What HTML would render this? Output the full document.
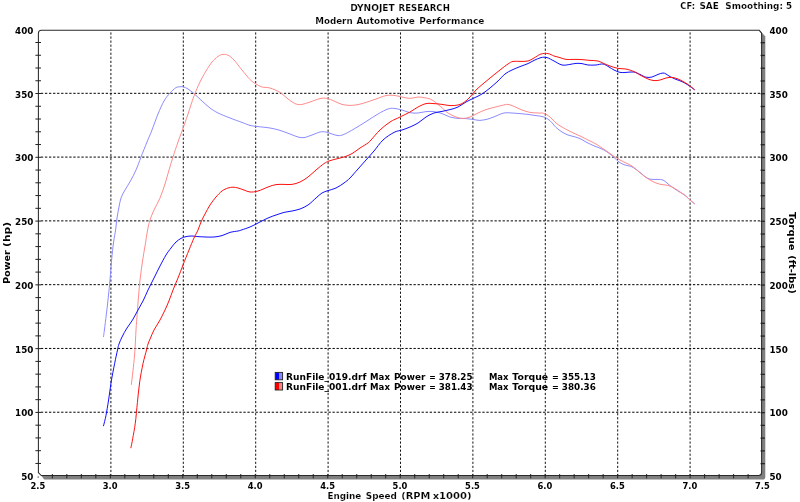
<!DOCTYPE html>
<html lang="en"><head><meta charset="utf-8"><title>Dynojet Research - Modern Automotive Performance</title>
<style>html,body{margin:0;padding:0;background:#fff;}body{width:800px;height:502px;overflow:hidden;}svg{display:block;will-change:transform;}text{font-family:"DejaVu Sans", "Liberation Sans", sans-serif;font-weight:bold;fill:#000;stroke:#fff;stroke-width:0.16px;}text.t{stroke:none;}</style></head><body>
<svg width="800" height="502" viewBox="0 0 800 502">
<rect width="800" height="502" fill="#fff"/>
<path d="M760.6,31.2 L765.3,36.4 L765.3,476.7 Q765.3,479.6 762.4,479.6 L44.2,479.6 L40.4,474.5 Z" fill="#808080"/>
<path d="M38.4,472.7 L38.4,33.2 Q38.4,30.2 41.4,30.2 L759.1,30.2 L761.6,33.2 L761.6,472.5 Q761.6,475.5 758.6,475.5 L41.2,475.5 Z" fill="#fff"/>
<g stroke="#000" stroke-width="0.92" stroke-dasharray="2.25 1.8" fill="none">
<line x1="110.90" y1="32.40" x2="110.90" y2="475.50"/>
<line x1="183.30" y1="32.40" x2="183.30" y2="475.50"/>
<line x1="255.70" y1="32.40" x2="255.70" y2="475.50"/>
<line x1="328.10" y1="32.40" x2="328.10" y2="475.50"/>
<line x1="400.50" y1="32.40" x2="400.50" y2="475.50"/>
<line x1="472.90" y1="32.40" x2="472.90" y2="475.50"/>
<line x1="545.30" y1="32.40" x2="545.30" y2="475.50"/>
<line x1="617.70" y1="32.40" x2="617.70" y2="475.50"/>
<line x1="690.10" y1="32.40" x2="690.10" y2="475.50"/>
</g>
<g stroke="#000" stroke-width="1.0" stroke-dasharray="2.3 1.75" fill="none">
<line x1="40.90" y1="412.22" x2="761.60" y2="412.22"/>
<line x1="40.90" y1="348.44" x2="761.60" y2="348.44"/>
<line x1="40.90" y1="284.66" x2="761.60" y2="284.66"/>
<line x1="40.90" y1="220.88" x2="761.60" y2="220.88"/>
<line x1="40.90" y1="157.10" x2="761.60" y2="157.10"/>
<line x1="40.90" y1="93.32" x2="761.60" y2="93.32"/>
</g>
<path d="M38.4,472.7 L38.4,33.2 Q38.4,30.2 41.4,30.2 L759.1,30.2 L761.6,33.2 L761.6,472.5 Q761.6,475.5 758.6,475.5 L41.2,475.5 Z" fill="none" stroke="#2a2a2a" stroke-width="1.05" stroke-linejoin="round"/>
<g stroke="#222" stroke-width="1">
<line x1="35.4" y1="463.44" x2="41.0" y2="463.44"/>
<line x1="760.6" y1="463.64" x2="764.8" y2="463.64" stroke-width="1.3"/>
<line x1="35.4" y1="450.69" x2="41.0" y2="450.69"/>
<line x1="760.6" y1="450.89" x2="764.8" y2="450.89" stroke-width="1.3"/>
<line x1="35.4" y1="437.93" x2="41.0" y2="437.93"/>
<line x1="760.6" y1="438.13" x2="764.8" y2="438.13" stroke-width="1.3"/>
<line x1="35.4" y1="425.18" x2="41.0" y2="425.18"/>
<line x1="760.6" y1="425.38" x2="764.8" y2="425.38" stroke-width="1.3"/>
<line x1="35.4" y1="412.42" x2="41.0" y2="412.42"/>
<line x1="760.6" y1="412.62" x2="764.8" y2="412.62" stroke-width="1.3"/>
<line x1="35.4" y1="399.66" x2="41.0" y2="399.66"/>
<line x1="760.6" y1="399.86" x2="764.8" y2="399.86" stroke-width="1.3"/>
<line x1="35.4" y1="386.91" x2="41.0" y2="386.91"/>
<line x1="760.6" y1="387.11" x2="764.8" y2="387.11" stroke-width="1.3"/>
<line x1="35.4" y1="374.15" x2="41.0" y2="374.15"/>
<line x1="760.6" y1="374.35" x2="764.8" y2="374.35" stroke-width="1.3"/>
<line x1="35.4" y1="361.40" x2="41.0" y2="361.40"/>
<line x1="760.6" y1="361.60" x2="764.8" y2="361.60" stroke-width="1.3"/>
<line x1="35.4" y1="348.64" x2="41.0" y2="348.64"/>
<line x1="760.6" y1="348.84" x2="764.8" y2="348.84" stroke-width="1.3"/>
<line x1="35.4" y1="335.88" x2="41.0" y2="335.88"/>
<line x1="760.6" y1="336.08" x2="764.8" y2="336.08" stroke-width="1.3"/>
<line x1="35.4" y1="323.13" x2="41.0" y2="323.13"/>
<line x1="760.6" y1="323.33" x2="764.8" y2="323.33" stroke-width="1.3"/>
<line x1="35.4" y1="310.37" x2="41.0" y2="310.37"/>
<line x1="760.6" y1="310.57" x2="764.8" y2="310.57" stroke-width="1.3"/>
<line x1="35.4" y1="297.62" x2="41.0" y2="297.62"/>
<line x1="760.6" y1="297.82" x2="764.8" y2="297.82" stroke-width="1.3"/>
<line x1="35.4" y1="284.86" x2="41.0" y2="284.86"/>
<line x1="760.6" y1="285.06" x2="764.8" y2="285.06" stroke-width="1.3"/>
<line x1="35.4" y1="272.10" x2="41.0" y2="272.10"/>
<line x1="760.6" y1="272.30" x2="764.8" y2="272.30" stroke-width="1.3"/>
<line x1="35.4" y1="259.35" x2="41.0" y2="259.35"/>
<line x1="760.6" y1="259.55" x2="764.8" y2="259.55" stroke-width="1.3"/>
<line x1="35.4" y1="246.59" x2="41.0" y2="246.59"/>
<line x1="760.6" y1="246.79" x2="764.8" y2="246.79" stroke-width="1.3"/>
<line x1="35.4" y1="233.84" x2="41.0" y2="233.84"/>
<line x1="760.6" y1="234.04" x2="764.8" y2="234.04" stroke-width="1.3"/>
<line x1="35.4" y1="221.08" x2="41.0" y2="221.08"/>
<line x1="760.6" y1="221.28" x2="764.8" y2="221.28" stroke-width="1.3"/>
<line x1="35.4" y1="208.32" x2="41.0" y2="208.32"/>
<line x1="760.6" y1="208.52" x2="764.8" y2="208.52" stroke-width="1.3"/>
<line x1="35.4" y1="195.57" x2="41.0" y2="195.57"/>
<line x1="760.6" y1="195.77" x2="764.8" y2="195.77" stroke-width="1.3"/>
<line x1="35.4" y1="182.81" x2="41.0" y2="182.81"/>
<line x1="760.6" y1="183.01" x2="764.8" y2="183.01" stroke-width="1.3"/>
<line x1="35.4" y1="170.06" x2="41.0" y2="170.06"/>
<line x1="760.6" y1="170.26" x2="764.8" y2="170.26" stroke-width="1.3"/>
<line x1="35.4" y1="157.30" x2="41.0" y2="157.30"/>
<line x1="760.6" y1="157.50" x2="764.8" y2="157.50" stroke-width="1.3"/>
<line x1="35.4" y1="144.54" x2="41.0" y2="144.54"/>
<line x1="760.6" y1="144.74" x2="764.8" y2="144.74" stroke-width="1.3"/>
<line x1="35.4" y1="131.79" x2="41.0" y2="131.79"/>
<line x1="760.6" y1="131.99" x2="764.8" y2="131.99" stroke-width="1.3"/>
<line x1="35.4" y1="119.03" x2="41.0" y2="119.03"/>
<line x1="760.6" y1="119.23" x2="764.8" y2="119.23" stroke-width="1.3"/>
<line x1="35.4" y1="106.28" x2="41.0" y2="106.28"/>
<line x1="760.6" y1="106.48" x2="764.8" y2="106.48" stroke-width="1.3"/>
<line x1="35.4" y1="93.52" x2="41.0" y2="93.52"/>
<line x1="760.6" y1="93.72" x2="764.8" y2="93.72" stroke-width="1.3"/>
<line x1="35.4" y1="80.76" x2="41.0" y2="80.76"/>
<line x1="760.6" y1="80.96" x2="764.8" y2="80.96" stroke-width="1.3"/>
<line x1="35.4" y1="68.01" x2="41.0" y2="68.01"/>
<line x1="760.6" y1="68.21" x2="764.8" y2="68.21" stroke-width="1.3"/>
<line x1="35.4" y1="55.25" x2="41.0" y2="55.25"/>
<line x1="760.6" y1="55.45" x2="764.8" y2="55.45" stroke-width="1.3"/>
<line x1="35.4" y1="42.50" x2="41.0" y2="42.50"/>
<line x1="760.6" y1="42.70" x2="764.8" y2="42.70" stroke-width="1.3"/>
<line x1="52.35" y1="474.0" x2="52.35" y2="478.3"/>
<line x1="66.84" y1="474.0" x2="66.84" y2="478.3"/>
<line x1="81.33" y1="474.0" x2="81.33" y2="478.3"/>
<line x1="95.83" y1="474.0" x2="95.83" y2="478.3"/>
<line x1="110.32" y1="474.0" x2="110.32" y2="478.3"/>
<line x1="124.82" y1="474.0" x2="124.82" y2="478.3"/>
<line x1="139.32" y1="474.0" x2="139.32" y2="478.3"/>
<line x1="153.81" y1="474.0" x2="153.81" y2="478.3"/>
<line x1="168.30" y1="474.0" x2="168.30" y2="478.3"/>
<line x1="182.80" y1="474.0" x2="182.80" y2="478.3"/>
<line x1="197.29" y1="474.0" x2="197.29" y2="478.3"/>
<line x1="211.79" y1="474.0" x2="211.79" y2="478.3"/>
<line x1="226.28" y1="474.0" x2="226.28" y2="478.3"/>
<line x1="240.78" y1="474.0" x2="240.78" y2="478.3"/>
<line x1="255.27" y1="474.0" x2="255.27" y2="478.3"/>
<line x1="269.77" y1="474.0" x2="269.77" y2="478.3"/>
<line x1="284.27" y1="474.0" x2="284.27" y2="478.3"/>
<line x1="298.76" y1="474.0" x2="298.76" y2="478.3"/>
<line x1="313.26" y1="474.0" x2="313.26" y2="478.3"/>
<line x1="327.75" y1="474.0" x2="327.75" y2="478.3"/>
<line x1="342.24" y1="474.0" x2="342.24" y2="478.3"/>
<line x1="356.74" y1="474.0" x2="356.74" y2="478.3"/>
<line x1="371.24" y1="474.0" x2="371.24" y2="478.3"/>
<line x1="385.73" y1="474.0" x2="385.73" y2="478.3"/>
<line x1="400.23" y1="474.0" x2="400.23" y2="478.3"/>
<line x1="414.72" y1="474.0" x2="414.72" y2="478.3"/>
<line x1="429.22" y1="474.0" x2="429.22" y2="478.3"/>
<line x1="443.71" y1="474.0" x2="443.71" y2="478.3"/>
<line x1="458.21" y1="474.0" x2="458.21" y2="478.3"/>
<line x1="472.70" y1="474.0" x2="472.70" y2="478.3"/>
<line x1="487.19" y1="474.0" x2="487.19" y2="478.3"/>
<line x1="501.69" y1="474.0" x2="501.69" y2="478.3"/>
<line x1="516.19" y1="474.0" x2="516.19" y2="478.3"/>
<line x1="530.68" y1="474.0" x2="530.68" y2="478.3"/>
<line x1="545.17" y1="474.0" x2="545.17" y2="478.3"/>
<line x1="559.67" y1="474.0" x2="559.67" y2="478.3"/>
<line x1="574.16" y1="474.0" x2="574.16" y2="478.3"/>
<line x1="588.66" y1="474.0" x2="588.66" y2="478.3"/>
<line x1="603.16" y1="474.0" x2="603.16" y2="478.3"/>
<line x1="617.65" y1="474.0" x2="617.65" y2="478.3"/>
<line x1="632.15" y1="474.0" x2="632.15" y2="478.3"/>
<line x1="646.64" y1="474.0" x2="646.64" y2="478.3"/>
<line x1="661.13" y1="474.0" x2="661.13" y2="478.3"/>
<line x1="675.63" y1="474.0" x2="675.63" y2="478.3"/>
<line x1="690.12" y1="474.0" x2="690.12" y2="478.3"/>
<line x1="704.62" y1="474.0" x2="704.62" y2="478.3"/>
<line x1="719.12" y1="474.0" x2="719.12" y2="478.3"/>
<line x1="733.61" y1="474.0" x2="733.61" y2="478.3"/>
<line x1="748.11" y1="474.0" x2="748.11" y2="478.3"/>
</g>
<line x1="38.2" y1="476.3" x2="38.2" y2="477.8" stroke="#333" stroke-width="0.9"/>
<g fill="none" stroke-width="1.0" stroke-linejoin="round" stroke-linecap="round">
<path d="M103.5,336.5 C103.7,335.4 103.9,333.8 104.4,330.0 C104.9,326.2 105.7,319.7 106.4,314.0 C107.1,308.3 107.8,301.7 108.4,296.0 C109.0,290.3 109.5,286.0 110.0,280.0 C110.5,274.0 111.0,266.3 111.6,260.0 C112.2,253.7 112.9,247.0 113.6,242.0 C114.3,237.0 115.0,234.0 115.6,230.0 C116.2,226.0 116.4,221.8 117.0,218.0 C117.6,214.2 118.3,210.3 119.0,207.0 C119.7,203.7 120.0,200.8 121.0,198.0 C122.0,195.2 123.3,193.0 125.0,190.0 C126.7,187.0 129.2,183.3 131.0,180.0 C132.8,176.7 134.3,173.8 136.0,170.0 C137.7,166.2 139.2,161.7 141.0,157.0 C142.8,152.3 145.2,146.5 147.0,142.0 C148.8,137.5 150.2,134.7 152.0,130.0 C153.8,125.3 156.0,118.8 158.0,114.0 C160.0,109.2 162.0,104.5 164.0,101.0 C166.0,97.5 168.0,95.2 170.0,93.0 C172.0,90.8 174.3,88.6 176.0,87.6 C177.7,86.6 178.8,86.9 180.0,86.8 C181.2,86.7 182.1,86.4 183.4,86.8 C184.7,87.2 186.2,87.9 188.0,89.0 C189.8,90.1 191.7,91.6 194.0,93.6 C196.3,95.6 199.3,98.6 202.0,101.0 C204.7,103.4 207.3,106.0 210.0,108.0 C212.7,110.0 214.7,111.3 218.0,113.0 C221.3,114.7 226.0,116.4 230.0,118.0 C234.0,119.6 238.7,121.2 242.0,122.4 C245.3,123.6 247.3,124.7 250.0,125.4 C252.7,126.1 254.7,126.2 258.0,126.6 C261.3,127.0 266.3,127.4 270.0,128.0 C273.7,128.6 276.7,129.4 280.0,130.4 C283.3,131.4 287.0,132.9 290.0,134.0 C293.0,135.1 295.7,136.4 298.0,137.0 C300.3,137.6 301.7,137.9 304.0,137.6 C306.3,137.3 309.3,135.9 312.0,135.0 C314.7,134.1 317.7,132.5 320.0,132.0 C322.3,131.5 324.0,131.7 326.0,132.0 C328.0,132.3 330.0,133.4 332.0,134.0 C334.0,134.6 336.0,135.5 338.0,135.6 C340.0,135.7 341.3,135.5 344.0,134.4 C346.7,133.3 350.3,131.1 354.0,129.0 C357.7,126.9 362.0,124.1 366.0,121.6 C370.0,119.1 374.3,116.1 378.0,114.0 C381.7,111.9 385.3,109.9 388.0,109.0 C390.7,108.1 391.7,108.2 394.0,108.4 C396.3,108.6 399.3,109.3 402.0,110.0 C404.7,110.7 407.3,112.2 410.0,112.7 C412.7,113.2 415.3,113.2 418.0,113.0 C420.7,112.8 423.3,111.8 426.0,111.6 C428.7,111.4 431.3,111.3 434.0,111.6 C436.7,111.9 439.3,112.7 442.0,113.6 C444.7,114.5 447.3,116.2 450.0,117.0 C452.7,117.8 455.3,118.1 458.0,118.4 C460.7,118.7 463.3,118.4 466.0,118.6 C468.7,118.8 471.7,119.3 474.0,119.6 C476.3,119.9 477.7,120.5 480.0,120.4 C482.3,120.3 485.3,119.7 488.0,119.0 C490.7,118.3 493.3,117.0 496.0,116.0 C498.7,115.0 501.3,113.5 504.0,113.0 C506.7,112.5 509.3,112.9 512.0,113.0 C514.7,113.1 517.3,113.4 520.0,113.6 C522.7,113.8 525.3,114.1 528.0,114.4 C530.7,114.7 533.3,115.2 536.0,115.6 C538.7,116.0 541.7,116.2 544.0,117.0 C546.3,117.8 548.0,119.0 550.0,120.7 C552.0,122.4 554.0,125.5 556.0,127.4 C558.0,129.3 560.0,130.7 562.0,132.0 C564.0,133.3 566.0,134.2 568.0,135.0 C570.0,135.8 572.0,136.0 574.0,136.6 C576.0,137.2 578.0,137.7 580.0,138.6 C582.0,139.5 584.0,140.9 586.0,142.0 C588.0,143.1 590.0,144.1 592.0,145.0 C594.0,145.9 596.0,146.6 598.0,147.4 C600.0,148.2 602.0,148.9 604.0,150.0 C606.0,151.1 608.3,152.8 610.0,154.0 C611.7,155.2 612.5,156.1 614.0,157.4 C615.5,158.7 617.2,160.7 619.0,162.0 C620.8,163.3 623.0,164.3 625.0,165.0 C627.0,165.7 629.2,165.7 631.0,166.4 C632.8,167.1 634.2,168.1 636.0,169.4 C637.8,170.7 640.2,172.6 642.0,174.0 C643.8,175.4 645.3,177.1 647.0,178.0 C648.7,178.9 650.2,179.2 652.0,179.4 C653.8,179.6 656.2,179.3 658.0,179.4 C659.8,179.5 661.5,179.4 663.0,180.0 C664.5,180.6 665.5,181.8 667.0,183.0 C668.5,184.2 670.2,185.7 672.0,187.0 C673.8,188.3 676.0,189.7 678.0,191.0 C680.0,192.3 682.0,193.1 684.0,194.6 C686.0,196.1 688.3,198.5 690.0,200.0 C691.7,201.5 693.7,203.0 694.4,203.6" stroke="#8c8cff"/>
<path d="M131.4,384.4 C131.9,379.7 133.7,365.1 134.5,356.0 C135.3,346.9 135.6,337.0 136.0,330.0 C136.4,323.0 136.8,319.3 137.2,314.0 C137.6,308.7 137.9,303.7 138.4,298.0 C138.9,292.3 139.3,286.0 140.0,280.0 C140.7,274.0 141.6,267.7 142.4,262.0 C143.2,256.3 144.1,251.3 145.0,246.0 C145.9,240.7 146.8,234.3 147.6,230.0 C148.4,225.7 148.9,223.3 150.0,220.0 C151.1,216.7 152.3,213.7 154.0,210.0 C155.7,206.3 158.2,202.3 160.0,198.0 C161.8,193.7 163.5,188.7 165.0,184.0 C166.5,179.3 167.7,174.5 169.0,170.0 C170.3,165.5 171.5,161.7 173.0,157.0 C174.5,152.3 176.4,146.5 178.0,142.0 C179.6,137.5 180.7,134.7 182.4,130.0 C184.1,125.3 186.1,119.7 188.0,114.0 C189.9,108.3 192.0,101.3 194.0,96.0 C196.0,90.7 198.0,86.2 200.0,82.0 C202.0,77.8 204.0,74.3 206.0,71.0 C208.0,67.7 210.0,64.4 212.0,62.0 C214.0,59.6 216.2,57.7 218.0,56.4 C219.8,55.1 221.3,54.6 223.0,54.4 C224.7,54.2 226.2,54.3 228.0,55.2 C229.8,56.1 231.7,57.5 234.0,60.0 C236.3,62.5 239.3,66.8 242.0,70.0 C244.7,73.2 247.7,77.2 250.0,79.5 C252.3,81.8 254.0,82.8 256.0,84.0 C258.0,85.2 259.7,86.3 262.0,87.0 C264.3,87.7 267.0,87.1 270.0,88.0 C273.0,88.9 277.0,90.6 280.0,92.4 C283.0,94.2 285.3,97.1 288.0,99.0 C290.7,100.9 293.7,103.1 296.0,104.0 C298.3,104.9 299.7,104.7 302.0,104.4 C304.3,104.1 307.0,103.0 310.0,102.0 C313.0,101.0 317.2,99.2 320.0,98.6 C322.8,98.0 324.7,98.0 327.0,98.4 C329.3,98.8 331.5,100.0 334.0,101.0 C336.5,102.0 339.3,103.7 342.0,104.4 C344.7,105.1 347.3,105.4 350.0,105.4 C352.7,105.4 355.3,105.1 358.0,104.6 C360.7,104.1 363.0,103.3 366.0,102.4 C369.0,101.5 372.7,100.1 376.0,99.0 C379.3,97.9 383.0,96.2 386.0,95.6 C389.0,95.0 391.3,95.2 394.0,95.4 C396.7,95.6 399.3,96.5 402.0,97.0 C404.7,97.5 407.3,98.4 410.0,98.4 C412.7,98.4 415.3,97.1 418.0,97.0 C420.7,96.9 423.7,97.5 426.0,98.0 C428.3,98.5 429.7,98.7 432.0,100.0 C434.3,101.3 437.3,103.8 440.0,106.0 C442.7,108.2 445.3,111.2 448.0,113.0 C450.7,114.8 453.5,116.1 456.0,117.0 C458.5,117.9 460.7,118.4 463.0,118.4 C465.3,118.4 467.5,117.9 470.0,117.0 C472.5,116.1 475.3,114.2 478.0,113.0 C480.7,111.8 483.3,110.5 486.0,109.6 C488.7,108.7 491.3,108.1 494.0,107.4 C496.7,106.7 499.7,105.9 502.0,105.4 C504.3,104.9 506.0,104.2 508.0,104.4 C510.0,104.6 511.7,105.5 514.0,106.4 C516.3,107.3 519.3,109.0 522.0,110.0 C524.7,111.0 527.3,111.9 530.0,112.4 C532.7,112.9 535.7,112.8 538.0,113.0 C540.3,113.2 542.0,112.7 544.0,113.4 C546.0,114.1 548.0,115.4 550.0,117.0 C552.0,118.6 554.0,121.3 556.0,123.0 C558.0,124.7 559.7,125.6 562.0,127.0 C564.3,128.4 567.0,129.9 570.0,131.4 C573.0,132.9 577.0,134.6 580.0,136.0 C583.0,137.4 585.3,138.7 588.0,140.0 C590.7,141.3 593.7,142.7 596.0,144.0 C598.3,145.3 600.0,146.7 602.0,148.0 C604.0,149.3 606.0,150.6 608.0,152.0 C610.0,153.4 612.0,155.1 614.0,156.4 C616.0,157.7 618.0,158.9 620.0,160.0 C622.0,161.1 624.0,162.0 626.0,163.0 C628.0,164.0 630.0,164.7 632.0,166.0 C634.0,167.3 636.0,169.3 638.0,171.0 C640.0,172.7 642.0,174.5 644.0,176.0 C646.0,177.5 648.0,178.8 650.0,180.0 C652.0,181.2 654.0,182.2 656.0,183.0 C658.0,183.8 660.0,184.2 662.0,184.6 C664.0,185.0 666.0,184.8 668.0,185.4 C670.0,186.0 672.0,186.9 674.0,188.0 C676.0,189.1 678.0,190.7 680.0,192.0 C682.0,193.3 684.3,194.7 686.0,196.0 C687.7,197.3 688.6,198.7 690.0,200.0 C691.4,201.3 693.7,203.0 694.4,203.6" stroke="#ff8c8c"/>
<path d="M103.5,425.8 C103.9,424.1 105.2,419.7 106.0,415.4 C106.8,411.1 107.7,405.6 108.6,400.0 C109.5,394.4 110.2,387.9 111.2,381.8 C112.2,375.8 113.5,369.0 114.6,363.7 C115.6,358.4 116.8,353.3 117.5,350.0 C118.2,346.7 118.2,346.2 119.0,344.0 C119.8,341.8 120.7,339.7 122.0,337.0 C123.3,334.3 125.2,330.8 127.0,328.0 C128.8,325.2 130.7,323.0 132.5,320.0 C134.3,317.0 136.2,313.3 138.0,310.0 C139.8,306.7 141.8,303.3 143.5,300.0 C145.2,296.7 146.2,293.7 148.0,290.0 C149.8,286.3 152.0,282.0 154.0,278.0 C156.0,274.0 158.0,269.8 160.0,266.0 C162.0,262.2 164.2,258.0 166.0,255.0 C167.8,252.0 169.3,250.2 171.0,248.0 C172.7,245.8 174.3,243.6 176.0,242.0 C177.7,240.4 179.3,239.3 181.0,238.4 C182.7,237.5 184.2,237.0 186.0,236.6 C187.8,236.2 190.0,236.0 192.0,236.0 C194.0,236.0 195.7,236.4 198.0,236.6 C200.3,236.8 203.3,236.9 206.0,237.0 C208.7,237.1 211.3,237.2 214.0,237.0 C216.7,236.8 219.3,236.4 222.0,235.6 C224.7,234.8 227.3,233.2 230.0,232.4 C232.7,231.6 236.0,231.4 238.0,231.0 C240.0,230.6 240.0,230.5 242.0,229.8 C244.0,229.1 247.3,228.1 250.0,227.0 C252.7,225.9 255.0,224.5 258.0,223.0 C261.0,221.5 265.0,219.3 268.0,218.0 C271.0,216.7 273.3,215.9 276.0,215.0 C278.7,214.1 281.3,213.1 284.0,212.4 C286.7,211.7 289.3,211.6 292.0,211.0 C294.7,210.4 297.3,210.0 300.0,209.0 C302.7,208.0 305.3,206.8 308.0,205.0 C310.7,203.2 313.7,200.0 316.0,198.0 C318.3,196.0 320.0,194.2 322.0,193.0 C324.0,191.8 325.7,191.4 328.0,190.6 C330.3,189.8 333.3,189.3 336.0,188.0 C338.7,186.7 341.7,184.7 344.0,183.0 C346.3,181.3 347.7,180.3 350.0,178.0 C352.3,175.7 355.3,172.0 358.0,169.0 C360.7,166.0 363.3,163.0 366.0,160.0 C368.7,157.0 371.2,154.3 374.0,151.0 C376.8,147.7 379.7,143.1 383.0,140.0 C386.3,136.9 390.8,134.1 394.0,132.4 C397.2,130.7 399.3,130.9 402.0,130.0 C404.7,129.1 407.3,128.2 410.0,127.0 C412.7,125.8 415.3,124.7 418.0,123.0 C420.7,121.3 423.3,118.7 426.0,117.0 C428.7,115.3 431.3,113.9 434.0,113.0 C436.7,112.1 439.3,112.0 442.0,111.4 C444.7,110.8 447.3,110.3 450.0,109.6 C452.7,108.9 455.3,108.3 458.0,107.0 C460.7,105.7 463.3,103.5 466.0,102.0 C468.7,100.5 471.3,99.3 474.0,98.0 C476.7,96.7 479.3,95.7 482.0,94.0 C484.7,92.3 487.3,90.2 490.0,88.0 C492.7,85.8 495.5,83.3 498.0,81.0 C500.5,78.7 502.7,75.8 505.0,74.0 C507.3,72.2 509.5,71.2 512.0,70.0 C514.5,68.8 517.3,67.7 520.0,66.6 C522.7,65.5 525.7,64.6 528.0,63.6 C530.3,62.6 531.8,61.4 534.0,60.4 C536.2,59.4 538.8,58.1 541.0,57.6 C543.2,57.1 544.8,57.0 547.0,57.6 C549.2,58.2 551.5,59.8 554.0,61.0 C556.5,62.2 559.3,64.4 562.0,65.0 C564.7,65.6 567.7,64.7 570.0,64.4 C572.3,64.1 574.0,63.5 576.0,63.4 C578.0,63.3 580.0,63.3 582.0,63.6 C584.0,63.9 585.7,64.8 588.0,65.0 C590.3,65.2 593.5,65.2 596.0,65.0 C598.5,64.8 600.8,63.7 603.0,64.0 C605.2,64.3 607.2,66.0 609.0,67.0 C610.8,68.0 612.2,69.1 614.0,70.0 C615.8,70.9 618.0,72.0 620.0,72.4 C622.0,72.8 623.7,72.5 626.0,72.4 C628.3,72.3 631.7,71.7 634.0,72.0 C636.3,72.3 638.0,73.5 640.0,74.4 C642.0,75.3 644.0,76.8 646.0,77.2 C648.0,77.6 650.0,77.5 652.0,77.0 C654.0,76.5 656.2,75.1 658.0,74.4 C659.8,73.7 661.7,73.1 663.0,73.0 C664.3,72.9 664.8,73.4 666.0,74.0 C667.2,74.6 668.3,75.7 670.0,76.6 C671.7,77.5 674.0,78.6 676.0,79.4 C678.0,80.2 680.0,80.7 682.0,81.6 C684.0,82.5 685.9,83.7 688.0,85.0 C690.1,86.3 693.3,88.8 694.4,89.6" stroke="#1010ff"/>
<path d="M130.9,447.8 C131.2,446.3 132.0,442.8 132.7,438.7 C133.4,434.6 134.5,429.2 135.3,423.2 C136.1,417.2 136.7,409.4 137.4,402.5 C138.1,395.6 138.8,388.3 139.7,381.8 C140.6,375.3 141.9,369.0 143.0,363.7 C144.1,358.4 145.7,353.3 146.5,350.0 C147.3,346.7 147.3,346.0 148.0,344.0 C148.7,342.0 149.5,340.3 150.5,338.0 C151.5,335.7 152.4,333.0 154.0,330.0 C155.6,327.0 158.2,323.3 160.0,320.0 C161.8,316.7 163.4,313.3 165.0,310.0 C166.6,306.7 168.0,303.3 169.3,300.0 C170.6,296.7 171.6,293.7 173.0,290.0 C174.4,286.3 176.3,282.2 178.0,278.0 C179.7,273.8 181.2,269.7 183.0,265.0 C184.8,260.3 187.2,254.5 189.0,250.0 C190.8,245.5 192.5,241.3 194.0,238.0 C195.5,234.7 196.8,232.7 198.0,230.0 C199.2,227.3 199.8,224.7 201.0,222.0 C202.2,219.3 203.5,216.8 205.0,214.0 C206.5,211.2 208.2,207.8 210.0,205.0 C211.8,202.2 214.0,199.3 216.0,197.0 C218.0,194.7 220.0,192.5 222.0,191.0 C224.0,189.5 226.2,188.6 228.0,188.0 C229.8,187.4 231.3,187.2 233.0,187.2 C234.7,187.2 236.2,187.5 238.0,188.0 C239.8,188.5 242.0,189.3 244.0,190.0 C246.0,190.7 247.7,191.8 250.0,192.0 C252.3,192.2 255.0,191.8 258.0,191.0 C261.0,190.2 265.0,188.1 268.0,187.0 C271.0,185.9 273.3,185.0 276.0,184.6 C278.7,184.2 281.3,184.4 284.0,184.4 C286.7,184.4 289.3,184.8 292.0,184.4 C294.7,184.0 297.3,183.2 300.0,182.0 C302.7,180.8 305.3,179.0 308.0,177.0 C310.7,175.0 313.3,172.2 316.0,170.0 C318.7,167.8 321.8,165.1 324.0,163.6 C326.2,162.1 327.0,161.8 329.0,161.0 C331.0,160.2 333.5,159.7 336.0,159.0 C338.5,158.3 341.3,157.9 344.0,157.0 C346.7,156.1 349.3,155.1 352.0,153.6 C354.7,152.1 357.3,149.8 360.0,148.0 C362.7,146.2 366.2,144.3 368.0,143.0 C369.8,141.7 369.0,142.2 371.0,140.0 C373.0,137.8 376.8,133.0 380.0,130.0 C383.2,127.0 386.7,124.2 390.0,122.0 C393.3,119.8 396.7,118.7 400.0,117.0 C403.3,115.3 407.0,113.7 410.0,112.0 C413.0,110.3 415.3,108.4 418.0,107.0 C420.7,105.6 423.3,104.2 426.0,103.6 C428.7,103.0 431.3,103.5 434.0,103.6 C436.7,103.7 439.3,104.1 442.0,104.4 C444.7,104.7 447.3,105.5 450.0,105.6 C452.7,105.7 455.7,105.5 458.0,105.0 C460.3,104.5 462.0,103.7 464.0,102.4 C466.0,101.1 468.0,99.1 470.0,97.0 C472.0,94.9 473.7,92.3 476.0,90.0 C478.3,87.7 481.3,85.3 484.0,83.0 C486.7,80.7 489.3,78.6 492.0,76.4 C494.7,74.2 497.3,72.1 500.0,70.0 C502.7,67.9 505.8,65.4 508.0,64.0 C510.2,62.6 511.0,61.8 513.0,61.4 C515.0,61.0 517.5,61.5 520.0,61.4 C522.5,61.3 525.7,61.6 528.0,61.0 C530.3,60.4 531.8,59.2 534.0,58.0 C536.2,56.8 538.7,54.7 541.0,54.0 C543.3,53.3 545.8,53.3 548.0,53.6 C550.2,53.9 552.0,55.3 554.0,56.0 C556.0,56.7 558.0,57.0 560.0,57.6 C562.0,58.2 563.7,59.1 566.0,59.4 C568.3,59.7 571.3,59.4 574.0,59.4 C576.7,59.4 579.3,59.4 582.0,59.6 C584.7,59.8 587.3,60.2 590.0,60.4 C592.7,60.6 595.7,60.5 598.0,61.0 C600.3,61.5 602.0,62.8 604.0,63.6 C606.0,64.4 607.7,65.2 610.0,66.0 C612.3,66.8 615.3,67.9 618.0,68.4 C620.7,68.9 623.3,68.5 626.0,69.0 C628.7,69.5 631.7,70.6 634.0,71.6 C636.3,72.6 637.7,73.8 640.0,75.0 C642.3,76.2 645.7,78.1 648.0,79.0 C650.3,79.9 652.0,80.4 654.0,80.6 C656.0,80.8 658.0,80.4 660.0,80.0 C662.0,79.6 664.0,78.4 666.0,78.0 C668.0,77.6 670.0,77.2 672.0,77.4 C674.0,77.6 676.0,78.2 678.0,79.0 C680.0,79.8 682.0,80.8 684.0,82.0 C686.0,83.2 688.3,84.7 690.0,86.0 C691.7,87.3 693.7,89.0 694.4,89.6" stroke="#ff1010"/>
</g>
<text x="21.2" y="480.1" font-size="8.0" textLength="12.2" lengthAdjust="spacingAndGlyphs" class="t">50</text>
<text x="769.5" y="480.1" font-size="8.0" textLength="12.2" lengthAdjust="spacingAndGlyphs" class="t">50</text>
<text x="15.1" y="416.4" font-size="8.0" textLength="18.3" lengthAdjust="spacingAndGlyphs" class="t">100</text>
<text x="769.5" y="416.4" font-size="8.0" textLength="18.3" lengthAdjust="spacingAndGlyphs" class="t">100</text>
<text x="15.1" y="352.6" font-size="8.0" textLength="18.3" lengthAdjust="spacingAndGlyphs" class="t">150</text>
<text x="769.5" y="352.6" font-size="8.0" textLength="18.3" lengthAdjust="spacingAndGlyphs" class="t">150</text>
<text x="15.1" y="288.8" font-size="8.0" textLength="18.3" lengthAdjust="spacingAndGlyphs" class="t">200</text>
<text x="769.5" y="288.8" font-size="8.0" textLength="18.3" lengthAdjust="spacingAndGlyphs" class="t">200</text>
<text x="15.1" y="225.0" font-size="8.0" textLength="18.3" lengthAdjust="spacingAndGlyphs" class="t">250</text>
<text x="769.5" y="225.0" font-size="8.0" textLength="18.3" lengthAdjust="spacingAndGlyphs" class="t">250</text>
<text x="15.1" y="161.2" font-size="8.0" textLength="18.3" lengthAdjust="spacingAndGlyphs" class="t">300</text>
<text x="769.5" y="161.2" font-size="8.0" textLength="18.3" lengthAdjust="spacingAndGlyphs" class="t">300</text>
<text x="15.1" y="97.5" font-size="8.0" textLength="18.3" lengthAdjust="spacingAndGlyphs" class="t">350</text>
<text x="769.5" y="97.5" font-size="8.0" textLength="18.3" lengthAdjust="spacingAndGlyphs" class="t">350</text>
<text x="15.1" y="33.7" font-size="8.0" textLength="18.3" lengthAdjust="spacingAndGlyphs" class="t">400</text>
<text x="769.5" y="33.7" font-size="8.0" textLength="18.3" lengthAdjust="spacingAndGlyphs" class="t">400</text>
<text x="30.4" y="488.9" font-size="8.0" textLength="14.8" lengthAdjust="spacingAndGlyphs" class="t">2.5</text>
<text x="102.8" y="488.9" font-size="8.0" textLength="14.8" lengthAdjust="spacingAndGlyphs" class="t">3.0</text>
<text x="175.2" y="488.9" font-size="8.0" textLength="14.8" lengthAdjust="spacingAndGlyphs" class="t">3.5</text>
<text x="247.7" y="488.9" font-size="8.0" textLength="14.8" lengthAdjust="spacingAndGlyphs" class="t">4.0</text>
<text x="320.2" y="488.9" font-size="8.0" textLength="14.8" lengthAdjust="spacingAndGlyphs" class="t">4.5</text>
<text x="392.6" y="488.9" font-size="8.0" textLength="14.8" lengthAdjust="spacingAndGlyphs" class="t">5.0</text>
<text x="465.1" y="488.9" font-size="8.0" textLength="14.8" lengthAdjust="spacingAndGlyphs" class="t">5.5</text>
<text x="537.5" y="488.9" font-size="8.0" textLength="14.8" lengthAdjust="spacingAndGlyphs" class="t">6.0</text>
<text x="610.0" y="488.9" font-size="8.0" textLength="14.8" lengthAdjust="spacingAndGlyphs" class="t">6.5</text>
<text x="682.4" y="488.9" font-size="8.0" textLength="14.8" lengthAdjust="spacingAndGlyphs" class="t">7.0</text>
<text x="754.9" y="488.9" font-size="8.0" textLength="14.8" lengthAdjust="spacingAndGlyphs" class="t">7.5</text>
<text y="11.2" font-size="8.6"><tspan x="350.15" textLength="44.60" lengthAdjust="spacingAndGlyphs">DYNOJET</tspan> <tspan x="398.55" textLength="51.30" lengthAdjust="spacingAndGlyphs">RESEARCH</tspan></text>
<text y="23.8" font-size="8.6"><tspan x="315.25" textLength="37.40" lengthAdjust="spacingAndGlyphs">Modern</tspan> <tspan x="356.45" textLength="58.50" lengthAdjust="spacingAndGlyphs">Automotive</tspan> <tspan x="419.25" textLength="65.10" lengthAdjust="spacingAndGlyphs">Performance</tspan></text>
<text y="8.8" font-size="8.6"><tspan x="680.35" textLength="14.80" lengthAdjust="spacingAndGlyphs">CF:</tspan> <tspan x="699.40" textLength="19.45" lengthAdjust="spacingAndGlyphs">SAE</tspan> <tspan x="725.35" textLength="57.70" lengthAdjust="spacingAndGlyphs">Smoothing:</tspan> <tspan x="785.95" textLength="6.10" lengthAdjust="spacingAndGlyphs">5</tspan></text>
<text y="499.4" font-size="8.9"><tspan x="327.45" textLength="33.90" lengthAdjust="spacingAndGlyphs">Engine</tspan> <tspan x="365.85" textLength="31.10" lengthAdjust="spacingAndGlyphs">Speed</tspan> <tspan x="401.25" textLength="29.10" lengthAdjust="spacingAndGlyphs">(RPM</tspan> <tspan x="432.65" textLength="38.90" lengthAdjust="spacingAndGlyphs">x1000)</tspan></text>
<g transform="translate(9.7,283.6) rotate(-90)"><text y="0" font-size="8.9" class="t"><tspan x="-0.35" textLength="33.80" lengthAdjust="spacingAndGlyphs">Power</tspan> <tspan x="36.65" textLength="25.10" lengthAdjust="spacingAndGlyphs">(hp)</tspan></text></g>
<g transform="translate(789.3,212.4) rotate(90)"><text y="0" font-size="8.9" class="t"><tspan x="-0.35" textLength="38.60" lengthAdjust="spacingAndGlyphs">Torque</tspan> <tspan x="42.85" textLength="38.40" lengthAdjust="spacingAndGlyphs">(ft-lbs)</tspan></text></g>
<g stroke="#222" stroke-width="0.9">
<rect x="275.2" y="372.4" width="3.8" height="7.4" fill="#0000ff" stroke="none"/><rect x="279" y="372.4" width="3.6" height="7.4" fill="#8888ff" stroke="none"/><rect x="275.2" y="372.4" width="7.4" height="7.4" fill="none"/>
<rect x="275.2" y="382.6" width="3.8" height="7.4" fill="#ff0000" stroke="none"/><rect x="279" y="382.6" width="3.6" height="7.4" fill="#ff8888" stroke="none"/><rect x="275.2" y="382.6" width="7.4" height="7.4" fill="none"/>
</g>
<text y="379.9" font-size="8.2" class="t"><tspan x="286.05" textLength="80.30" lengthAdjust="spacingAndGlyphs">RunFile_019.drf</tspan> <tspan x="370.05" textLength="19.90" lengthAdjust="spacingAndGlyphs">Max</tspan> <tspan x="394.05" textLength="31.30" lengthAdjust="spacingAndGlyphs">Power</tspan> <tspan x="429.15" textLength="6.50" lengthAdjust="spacingAndGlyphs">=</tspan> <tspan x="438.75" textLength="33.80" lengthAdjust="spacingAndGlyphs">378.25</tspan> <tspan x="488.95" textLength="19.60" lengthAdjust="spacingAndGlyphs">Max</tspan> <tspan x="512.35" textLength="35.80" lengthAdjust="spacingAndGlyphs">Torque</tspan> <tspan x="551.95" textLength="6.80" lengthAdjust="spacingAndGlyphs">=</tspan> <tspan x="561.85" textLength="34.00" lengthAdjust="spacingAndGlyphs">355.13</tspan></text>
<text y="390.3" font-size="8.2" class="t"><tspan x="286.05" textLength="80.30" lengthAdjust="spacingAndGlyphs">RunFile_001.drf</tspan> <tspan x="370.05" textLength="19.90" lengthAdjust="spacingAndGlyphs">Max</tspan> <tspan x="394.05" textLength="31.30" lengthAdjust="spacingAndGlyphs">Power</tspan> <tspan x="429.15" textLength="6.50" lengthAdjust="spacingAndGlyphs">=</tspan> <tspan x="438.75" textLength="33.80" lengthAdjust="spacingAndGlyphs">381.43</tspan> <tspan x="488.95" textLength="19.60" lengthAdjust="spacingAndGlyphs">Max</tspan> <tspan x="512.35" textLength="35.80" lengthAdjust="spacingAndGlyphs">Torque</tspan> <tspan x="551.95" textLength="6.80" lengthAdjust="spacingAndGlyphs">=</tspan> <tspan x="561.85" textLength="34.00" lengthAdjust="spacingAndGlyphs">380.36</tspan></text>
</svg></body></html>
